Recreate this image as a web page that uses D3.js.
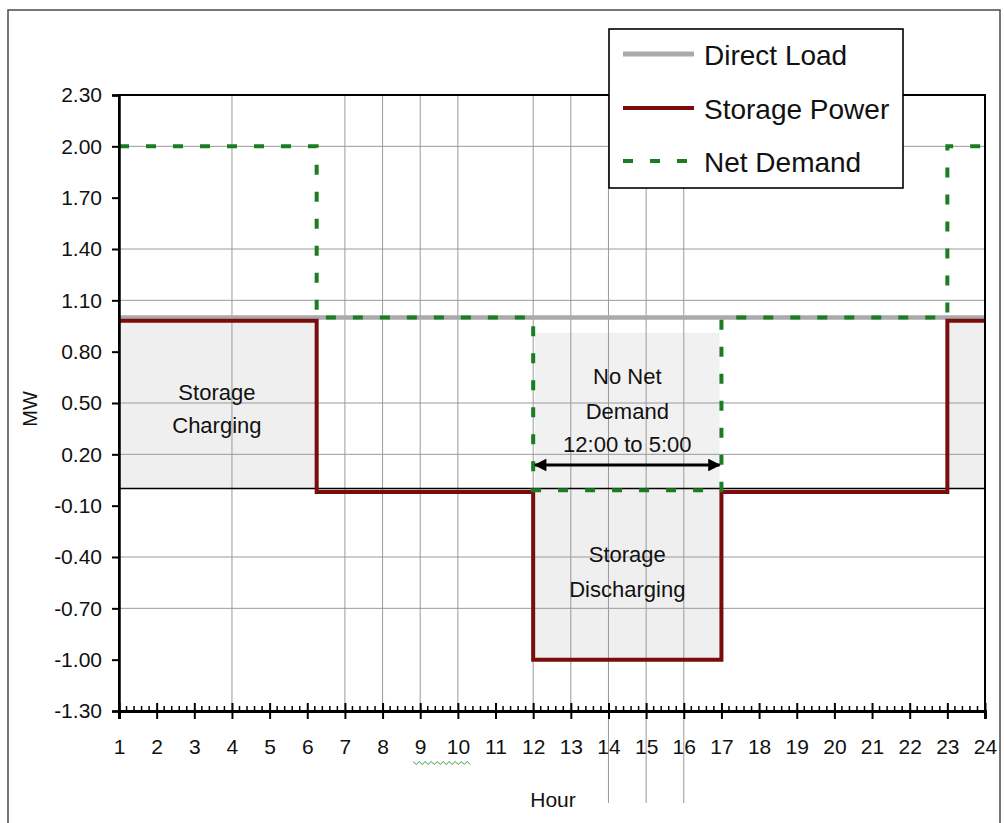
<!DOCTYPE html>
<html><head><meta charset="utf-8">
<script src="https://cdn.jsdelivr.net/npm/d3@7"></script>
<style>body{margin:0;background:#fff}svg{display:block;font-family:"Liberation Sans",Arial,sans-serif}</style>
</head><body><svg id="c" width="1004" height="823"></svg>
<script>
// ---- data ----
const hours = d3.range(1, 25);
const yTicks = [2.30, 2.00, 1.70, 1.40, 1.10, 0.80, 0.50, 0.20, -0.10, -0.40, -0.70, -1.00, -1.30];
const gridY = [2.00, 1.40, 1.10, 0.50, 0.20, -0.40, -0.70];
const gridX = [4, 7, 8, 9, 10, 12, 13, 14, 15, 16];
const gridXLong = [14, 15, 16];
const loadHours = [1, 24];
const loadValues = [1.00, 1.00];
const stepHours = [1, 6.25, 12, 17, 23, 24];
const storageValues = [0.98, -0.02, -1.00, -0.02, 0.98, 0.98];
const netValues = [2.00, 1.00, -0.01, 1.00, 2.00, 2.00];
const noNetHours = [12.05, 16.95];
const noNetLevel = 0.91;
const legendLabels = ["Direct Load", "Storage Power", "Net Demand"];

const COL_LOAD = "#aaaaaa", COL_STOR = "#7a0c0c", COL_NET = "#1b7d22";

const svg = d3.select("#c");
const x = d3.scaleLinear().domain([1, 24]).range([119, 985]);
const y = d3.scaleLinear().domain([-1.3, 2.3]).range([711, 95]);

// outer frame
svg.append("rect").attr("x", 8).attr("y", 10).attr("width", 992).attr("height", 830)
  .attr("fill", "#fff").attr("stroke", "#555").attr("stroke-width", 1.6);

// shading
const stor = stepHours.map((h, i) => [h, storageValues[i]]);
svg.append("path").datum(stor)
  .attr("d", d3.area().curve(d3.curveStepAfter).x(d => x(d[0])).y0(y(0)).y1(d => y(d[1])))
  .attr("fill", "#efefef");
svg.append("rect").attr("x", x(noNetHours[0])).attr("width", x(noNetHours[1]) - x(noNetHours[0]))
  .attr("y", y(noNetLevel)).attr("height", y(0) - y(noNetLevel)).attr("fill", "#f1f1f1");

// gridlines
svg.append("g").selectAll("line").data(gridY).join("line")
  .attr("x1", x(1)).attr("x2", x(24)).attr("y1", d => y(d)).attr("y2", d => y(d))
  .attr("stroke", "#9a9a9a").attr("stroke-width", 1);
svg.append("g").selectAll("line").data(gridX).join("line")
  .attr("x1", d => x(d)).attr("x2", d => x(d)).attr("y1", y(2.3))
  .attr("y2", d => gridXLong.includes(d) ? 803 : y(-1.3))
  .attr("stroke", "#9a9a9a").attr("stroke-width", 1);

// zero line
svg.append("line").attr("x1", x(1)).attr("x2", x(24)).attr("y1", y(0)).attr("y2", y(0))
  .attr("stroke", "#000").attr("stroke-width", 1.5);

// series
const lineFn = d3.line().x(d => x(d[0])).y(d => y(d[1]));
const stepFn = d3.line().curve(d3.curveStepAfter).x(d => x(d[0])).y(d => y(d[1]));
svg.append("path").datum(loadHours.map((h, i) => [h, loadValues[i]]))
  .attr("d", lineFn).attr("fill", "none").attr("stroke", COL_LOAD).attr("stroke-width", 4.5);
svg.append("path").datum(stor)
  .attr("d", stepFn).attr("fill", "none").attr("stroke", COL_STOR).attr("stroke-width", 4);
svg.append("path").datum(stepHours.map((h, i) => [h, netValues[i]]))
  .attr("d", stepFn).attr("fill", "none").attr("stroke", COL_NET).attr("stroke-width", 4)
  .attr("stroke-dasharray", "10,17");

// plot border
svg.append("rect").attr("x", x(1)).attr("y", y(2.3)).attr("width", x(24) - x(1)).attr("height", y(-1.3) - y(2.3))
  .attr("fill", "none").attr("stroke", "#000").attr("stroke-width", 2);

// y axis
const yAx = svg.append("g").attr("transform", `translate(${x(1)},0)`)
  .call(d3.axisLeft(y).tickValues(yTicks).tickSize(7).tickPadding(10).tickFormat(d => d.toFixed(2)));
yAx.select(".domain").attr("stroke-width", 2.5);
yAx.selectAll(".tick line").attr("stroke-width", 2);
yAx.selectAll("text").attr("font-size", 21).attr("font-family", "Liberation Sans, Arial").attr("fill", "#111");

// x axis
const xAx = svg.append("g").attr("transform", `translate(0,${y(-1.3)})`)
  .call(d3.axisBottom(x).tickValues(hours).tickSize(8).tickPadding(20).tickFormat(d3.format("d")));
xAx.select(".domain").attr("stroke-width", 3);
xAx.selectAll(".tick line").attr("stroke-width", 2);
xAx.selectAll("text").attr("font-size", 21).attr("font-family", "Liberation Sans, Arial").attr("fill", "#111");
const xAxUp = svg.append("g").attr("transform", `translate(0,${y(-1.3)})`)
  .call(d3.axisBottom(x).tickValues(hours).tickSize(-8).tickFormat(""));
xAxUp.select(".domain").remove();
xAxUp.selectAll(".tick line").attr("stroke-width", 2);
const minor = d3.range(1, 24, 0.2).filter(v => Math.abs(v - Math.round(v)) > 0.01);
svg.append("g").selectAll("line").data(minor).join("line")
  .attr("x1", d => x(d)).attr("x2", d => x(d)).attr("y1", y(-1.3)).attr("y2", y(-1.3) - 5)
  .attr("stroke", "#000").attr("stroke-width", 1.5);

// spell-check squiggle under 9 10
const sq = d3.range(x(9) - 7, x(10) + 14, 3).map((px, i) => [px, 763 + (i % 2 ? 1.5 : -1.5)]);
svg.append("path").attr("d", d3.line()(sq)).attr("fill", "none").attr("stroke", "#3a9a3a").attr("stroke-width", 1);

// axis titles
svg.append("text").attr("transform", `translate(37,${(y(2.3) + y(-1.3)) / 2 + 6}) rotate(-90)`)
  .attr("text-anchor", "middle").attr("font-size", 20).attr("fill", "#111").text("MW");
svg.append("text").attr("x", 553).attr("y", 807).attr("text-anchor", "middle")
  .attr("font-size", 21).attr("fill", "#111").text("Hour");

// annotations
function multi(cx, baselines, lines) {
  lines.forEach((t, i) => svg.append("text").attr("x", cx).attr("y", baselines[i])
    .attr("text-anchor", "middle").attr("font-size", 22).attr("fill", "#111").text(t));
}
multi(x(3.6), [400, 433], ["Storage", "Charging"]);
multi(x(14.5), [384, 419, 452], ["No Net", "Demand", "12:00 to 5:00"]);
multi(x(14.5), [562, 597], ["Storage", "Discharging"]);

// arrow
const defs = svg.append("defs");
defs.append("marker").attr("id", "ah").attr("viewBox", "0 0 10 10").attr("refX", 9).attr("refY", 5)
  .attr("markerWidth", 5).attr("markerHeight", 4.2).attr("orient", "auto-start-reverse")
  .append("path").attr("d", "M0,0L10,5L0,10z").attr("fill", "#000");
svg.append("line").attr("x1", x(12.05)).attr("x2", x(16.95)).attr("y1", 465).attr("y2", 465)
  .attr("stroke", "#000").attr("stroke-width", 3)
  .attr("marker-start", "url(#ah)").attr("marker-end", "url(#ah)");

// legend
const lg = svg.append("g");
lg.append("rect").attr("x", 609).attr("y", 29).attr("width", 294).attr("height", 159)
  .attr("fill", "#fff").attr("stroke", "#000").attr("stroke-width", 1.6);
const rowsY = [54, 108, 161];
const styles = [
  { c: COL_LOAD, w: 5, dash: null },
  { c: COL_STOR, w: 4, dash: null },
  { c: COL_NET, w: 4, dash: "10,17" }
];
legendLabels.forEach((t, i) => {
  lg.append("line").attr("x1", 623).attr("x2", 694).attr("y1", rowsY[i]).attr("y2", rowsY[i])
    .attr("stroke", styles[i].c).attr("stroke-width", styles[i].w)
    .attr("stroke-dasharray", styles[i].dash);
  lg.append("text").attr("x", 704).attr("y", rowsY[i] + 11).attr("font-size", 28).attr("fill", "#111").text(t);
});
</script></body></html>
